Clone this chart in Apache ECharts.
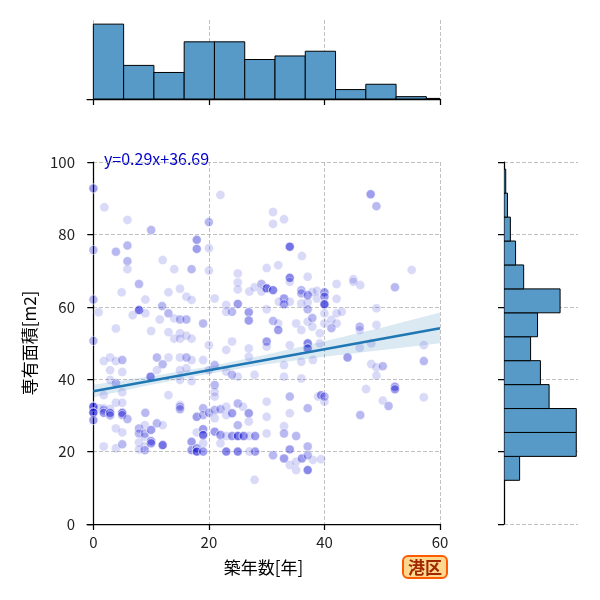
<!DOCTYPE html>
<html>
<head>
<meta charset="utf-8">
<script src="https://cdn.jsdelivr.net/npm/echarts@6/dist/echarts.min.js"></script>
<style>
html, body { margin: 0; padding: 0; background: #fff; }
#chart { width: 600px; height: 600px; }
</style>
</head>
<body>
<div id="chart"></div>
<script>
// 築年数 x 専有面積 (港区)  [age, area, 重なり数]
const points = [
  [0,92.7,3],[1.9,87.5,1],[5.9,84,1],[10,81.2,2],[0,75.7,2],[3.9,75.2,2],[5.9,76.9,2],[5.9,72.6,2],[5.9,70.4,1],
  [12,72.9,1],[14,70.4,1],[17,70.4,2],[17.9,78.5,3],[17.9,76,3],
  [22,90.9,1],[20,83.4,2],[31.1,86.2,1],[31.1,82.9,1],[33,84.2,1],[34,76.6,5],[36.1,74,1],[20,76.2,1],[20,70,1],
  [25,69.2,1],[30,70.7,1],[32,71.5,1],[34,68,4],[37.1,68.3,1],
  [48,91.1,3],[49,87.8,2],[55.1,70.2,1],[45,67.6,1],
  [7.9,66.3,2],[4.9,64,1],[0,62,2],[0.9,58.5,1],[7.9,59.1,5],[6.8,57.7,1],[9,62,1],[9,58.2,1],[3.9,54,1],[10,53.3,1],
  [11.9,60.2,2],[13,58.2,2],[11.5,56.5,1],[14,56.8,1],[13,64,1],[15,65,1],[16.1,62.8,1],[17,61.9,1],[15,56.5,2],
  [16.1,56.5,2],[13,53,1],[15,52.7,1],[14,51.2,1],[15,51.2,1],[16.1,52,1],[17,51.2,1],[0,50.6,2],[1.8,45,1],
  [2.9,46,1],[3.9,45,1],[5,45.3,2],[2.9,42.5,1],[5,42,1],[2.9,39.8,1],[3.9,38.9,2],[1.8,35.6,1],[5,36.4,1],
  [11,46,2],[13,46,1],[12,44.1,2],[11,42.5,1],[9.9,40.7,4],[15,46,1],[16.1,46,2],[17,45.3,1],[15,42.5,1],
  [16.1,43,1],[15,39.8,1],[17,39.5,1],[13,35.6,1],[15,32.9,1],[0,32.4,6],[1,32,1],[1.8,32,1],[2.9,31.8,1],
  [0,30.8,6],[0,28.7,3],[1.8,31.5,2],[1.8,30.7,3],[2.9,30.7,4],[2.9,30,2],[3.9,33.5,1],[5,33.5,1],[5,30.7,4],
  [5,30.1,2],[5.9,29,2],[9,30.7,2],[3.9,26.4,1],[5,25.3,1],[7.9,26.4,2],[7.9,25,2],[8.9,27.3,1],[8.9,25,2],
  [8.9,24.1,1],[10,26,3],[11,27.8,2],[12,27.3,1],[10,22.9,3],[10,22.3,3],[12,21.8,5],[7.9,22.5,1],[8.9,21.4,1],
  [8.9,20.4,2],[7.9,20.6,1],[1.8,21.4,1],[3.9,20.9,1],[5,22,2],[15,32.4,2],[15,31.7,2],[17.9,29.6,3],[17,22.7,3],
  [17,20.4,3],[17.9,20.9,3],[17.9,20,5],[17.9,25.3,1],
  [19,32,2],[19,30.1,2],[20,30.7,2],[19,26.2,3],[19,24.6,5],[19,22.3,1],[19,20,3],[21,31.5,2],[21,29.2,1],
  [21,25.5,3],[22,31.7,2],[23,32.4,1],[23,30.1,1],[24,30.6,3],[25,33.3,2],[25.9,32.4,1],[26.9,30.6,3],[26.9,28.3,1],
  [25,27.3,2],[25,24.3,1],[22,24.6,3],[22,22.3,1],[23,24.3,1],[24,24.3,3],[25,24.3,4],[26,24.3,4],[27,24.3,1],
  [28,24.3,3],[23,20,4],[25,20,4],[28,20,3],[27,20,1],[30,29.6,1],[30,25,1],[34,30.6,1],[33,27,1],[33,25,2],
  [35.1,24.3,2],[37.1,32,2],[31.1,19,2],[34,20.6,3],[33,18.1,3],[34,16.3,1],[35.1,17.2,1],[35.1,14.9,1],
  [36.1,18.1,3],[37.1,14.9,4],[37.1,21.4,2],[38,17.7,1],[37.1,19,2],[27.9,12.2,1],
  [25,66.7,1],[29.1,66.3,2],[30,65.1,5],[31.1,64.6,4],[29.1,64.2,1],[25,64.8,1],[27,64.2,1],[27.9,65.4,1],
  [33,62.3,3],[33,60.7,3],[34,61.4,1],[32.1,61.4,1],[34,66.9,1],[36,64.6,2],[36,63.7,2],[37.1,63.2,3],[37.9,64.1,1],
  [38.7,64.4,1],[38.7,62.3,1],[37.1,61.2,1],[36,60.9,1],[23,60.5,1],[24,58.6,2],[25,60.8,3],[23,58.6,1],
  [26.9,58.5,3],[26.9,56.2,3],[30,59.3,1],[31.1,56.1,2],[32,55.4,1],[32,53.6,3],[35.1,55.4,1],[36,53.6,1],
  [37.1,59.3,2],[37.1,55.9,1],[37.9,56.9,2],[37.9,54.5,1],[19,55.4,2],[21,62.3,1],[24,50.4,1],[23,48.1,1],
  [26.9,48.5,1],[26.9,46.2,1],[30,50.4,3],[30,49,1],[34,49.4,1],[37.1,49.9,4],[37.1,48.5,4],[38,45.3,1],
  [36,44.8,1],[33,43.9,1],[33,40.7,1],[27.9,41.2,1],[25,40.7,1],[24,41.2,2],[23,42.1,1],[21,43.9,2],[21,38.4,2],
  [21,36.5,1],[21,35.2,1],[30,33.8,1],[34,35.2,2],[36,40.2,1],[38.9,35.2,1],[20,49.4,1],[19,45.3,1],[20,42.5,1],
  [42.1,66.3,1],[45,66.9,1],[46.2,66,1],[52.2,65.4,2],[40,64,3],[40,62.8,3],[40,60.7,6],[42.1,62.2,1],[40,58.2,1],
  [40,55.4,1],[41.2,56.4,1],[41.2,54.1,2],[42.1,58.2,1],[42.1,55.4,1],[43,58.6,1],[49,59.6,1],[49,55,1],
  [46.1,54.5,2],[46.1,53.6,1],[48.1,49.9,1],[46.1,48.7,1],[57.2,49.4,1],[57.2,45,2],[44,46,3],[48.1,44.2,1],
  [49,43.3,1],[50.1,43.6,2],[49,41,1],[39.2,52.7,1],[39.2,49.9,1],[39.4,35.6,3],[40,35.2,2],[47.2,37.3,1],
  [52.2,37.9,3],[52.2,37.2,3],[50.1,34.1,1],[51.1,32.6,2],[57.2,35,1],[40,33.8,1],[46.2,30.1,2],[39.4,17.9,1]
];

// 回帰直線 y=0.29x+36.69 と信頼区間
const fitSlope = 0.29;
const fitIntercept = 36.69;
const bandX = [0, 10, 20, 30, 40, 50, 60];
const bandLow = [35.0, 38.5, 41.5, 44.1, 46.2, 48.1, 49.9];
const bandHigh = [38.5, 40.8, 43.5, 46.8, 50.5, 54.3, 58.4];

// ヒストグラム (上: 築年数, 右: 専有面積)
const ageEdges = [0, 5.24, 10.48, 15.72, 20.96, 26.2, 31.44, 36.68, 41.92, 47.16, 52.4, 57.64, 62.88];
const ageCounts = [127, 57, 45, 97, 97, 67, 73, 81, 16, 25, 4, 1];
const areaEdges = [12.07, 18.68, 25.29, 31.9, 38.51, 45.12, 51.73, 58.34, 64.95, 71.56, 78.17, 84.78, 91.39, 98.0];
const areaCounts = [27, 125, 125, 78, 63, 46, 58, 97, 34, 20, 11, 6, 3];

const xTicks = [0, 20, 40, 60];

let scatterData = [];
points.forEach((p) => {
  for (let i = 0; i < p[2]; i++) scatterData.push([p[0], p[1]]);
});
let ageBins = ageCounts.map((c, i) => [ageEdges[i], ageEdges[i + 1], c]);
let areaBins = areaCounts.map((c, i) => [areaEdges[i], areaEdges[i + 1], c]);

const font = "'Noto Sans CJK JP', 'Noto Sans', sans-serif";
const gridLine = { show: true, lineStyle: { color: "#b0b0b0", type: [4, 2], width: 0.8 } };
const spine = { show: true, lineStyle: { color: "#000", width: 1.25 } };
const tick = { show: true, length: 6, lineStyle: { color: "#000", width: 1.25 } };
const barFill = "rgb(87,153,199)";

function histItem(horizontal) {
  return function (params, api) {
    let a = api.value(0), b = api.value(1), c = api.value(2);
    let p0, p1;
    if (horizontal) {
      p0 = api.coord([0, a]);
      p1 = api.coord([c, b]);
    } else {
      p0 = api.coord([a, 0]);
      p1 = api.coord([b, c]);
    }
    return {
      type: "rect",
      shape: {
        x: Math.min(p0[0], p1[0]),
        y: Math.min(p0[1], p1[1]),
        width: Math.abs(p1[0] - p0[0]),
        height: Math.abs(p1[1] - p0[1]),
      },
      style: { fill: barFill, stroke: "#000", lineWidth: 1 },
    };
  };
}

let myChart = echarts.init(document.getElementById("chart"));
myChart.setOption({
  animation: false,
  textStyle: { fontFamily: font },
  grid: [
    { left: 87, top: 162, width: 353, height: 362 },
    { left: 87, top: 20, width: 353, height: 79 },
    { left: 504, top: 162, width: 74, height: 362 },
  ],
  xAxis: [
    {
      gridIndex: 0, type: "value", min: -1.1, max: 60,
      name: "築年数[年]", nameLocation: "middle", nameGap: 35,
      nameTextStyle: { fontSize: 17, color: "#000", fontFamily: font },
      axisLine: spine,
      axisTick: Object.assign({ customValues: xTicks }, tick),
      axisLabel: { customValues: xTicks, fontSize: 15, color: "#222", margin: 11, fontFamily: font },
      splitLine: gridLine,
    },
    {
      gridIndex: 1, type: "value", min: -1.1, max: 60,
      axisLine: spine,
      axisTick: Object.assign({ customValues: xTicks }, tick),
      axisLabel: { show: false, customValues: xTicks },
      splitLine: gridLine,
    },
    { gridIndex: 2, type: "value", min: 0, max: 128, show: false },
  ],
  yAxis: [
    {
      gridIndex: 0, type: "value", min: 0, max: 100, interval: 20,
      name: "専有面積[m2]", nameLocation: "middle", nameGap: 49,
      nameTextStyle: { fontSize: 17, color: "#000", fontFamily: font },
      axisLine: spine, axisTick: tick,
      axisLabel: { fontSize: 15, color: "#222", margin: 12, fontFamily: font },
      splitLine: gridLine,
    },
    { gridIndex: 1, type: "value", min: 0, max: 134, show: false },
    {
      gridIndex: 2, type: "value", min: 0, max: 100, interval: 20,
      axisLine: spine, axisTick: tick,
      axisLabel: { show: false },
      splitLine: gridLine,
    },
  ],
  series: [
    {
      type: "scatter", xAxisIndex: 0, yAxisIndex: 0,
      data: scatterData, symbolSize: 9,
      itemStyle: { color: "rgba(0,0,205,0.19)", borderColor: "rgba(255,255,255,0.35)", borderWidth: 1 },
      z: 2,
    },
    {
      type: "custom", xAxisIndex: 0, yAxisIndex: 0, data: [0], z: 3, silent: true,
      renderItem: function (params, api) {
        let upper = bandX.map((x, i) => api.coord([x, bandHigh[i]]));
        let lower = bandX.map((x, i) => api.coord([x, bandLow[i]])).reverse();
        return {
          type: "polygon",
          shape: { points: upper.concat(lower) },
          style: { fill: "rgba(31,119,180,0.16)" },
        };
      },
    },
    {
      type: "line", xAxisIndex: 0, yAxisIndex: 0, z: 4,
      data: [[0, fitIntercept], [60, fitIntercept + fitSlope * 60]],
      symbol: "none",
      lineStyle: { color: "#1f77b4", width: 2.5 },
    },
    {
      type: "custom", xAxisIndex: 1, yAxisIndex: 1, clip: true,
      data: ageBins, renderItem: histItem(false),
    },
    {
      type: "custom", xAxisIndex: 2, yAxisIndex: 2, clip: true,
      data: areaBins, renderItem: histItem(true),
    },
  ],
  graphic: [
    {
      type: "text", left: 104, top: 151,
      style: { text: "y=0.29x+36.69", fill: "#0000cd", font: "16px " + font },
    },
    {
      type: "text", left: 402, top: 555,
      style: {
        text: "港区", fill: "#a02800", font: "bold 17px " + font,
        backgroundColor: "#ffd88f", borderColor: "#ff5a00", borderWidth: 2, borderRadius: 4,
        padding: [2, 4, 1, 4],
      },
    },
  ],
});
</script>
</body>
</html>
